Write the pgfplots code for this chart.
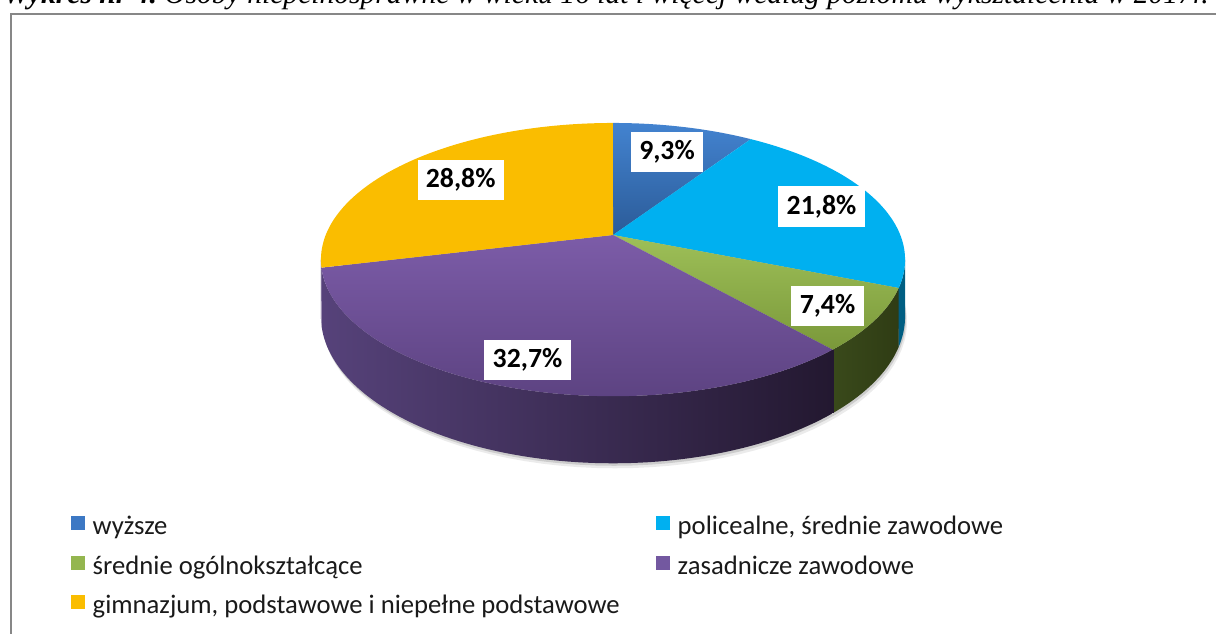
\documentclass[border=0pt]{standalone}
\usepackage{pgfplots}
\pgfplotsset{compat=1.18}
\usepackage{fontspec}
\setmainfont{Carlito}
\newfontfamily\titlefont{Liberation Serif}
\definecolor{cBlue}{HTML}{3C78C4}
\definecolor{cBlueT}{HTML}{4383D0}
\definecolor{cBlueB}{HTML}{2B5B98}
\definecolor{cCyan}{HTML}{00B0F0}
\definecolor{cCyanS}{HTML}{005E82}
\definecolor{cGreen}{HTML}{94B64F}
\definecolor{cGreenT}{HTML}{9EC058}
\definecolor{cGreenB}{HTML}{7A983A}
\definecolor{cGreenSL}{HTML}{3A4A1B}
\definecolor{cGreenSR}{HTML}{2F3C14}
\definecolor{cPurple}{HTML}{7358A0}
\definecolor{cPurpleT}{HTML}{7C5CA8}
\definecolor{cPurpleB}{HTML}{5D4382}
\definecolor{cPurpleSL}{HTML}{56427A}
\definecolor{cPurpleSR}{HTML}{231830}
\definecolor{cYellow}{HTML}{FABD00}
\definecolor{frameGray}{HTML}{878787}
\definecolor{legText}{HTML}{1A1A1A}
% shares in percent (clockwise from 12 o'clock)
\def\vA{9.3}\def\vB{21.8}\def\vC{7.4}\def\vD{32.7}\def\vE{28.8}
\pgfmathsetmacro\tA{3.6*\vA}
\pgfmathsetmacro\tB{3.6*(\vA+\vB)}
\pgfmathsetmacro\tC{3.6*(\vA+\vB+\vC)}
\pgfmathsetmacro\tD{3.6*(\vA+\vB+\vC+\vD)}
\pgfmathsetmacro\tE{3.6*(\vA+\vB+\vC+\vD+\vE)}
\pgfmathsetmacro\sR{acos(-0.18)}
\pgfmathsetmacro\sL{360-\sR}
% side walls slightly overlap the next one (no hairline gaps)
\pgfmathsetmacro\pA{\tB+0.8}
\pgfmathsetmacro\pB{\tC+0.8}
\pgfmathsetmacro\pC{\tD+0.8}
\pgfmathsetmacro\eA{2*\pA-\sR}
\pgfmathsetmacro\eB{2*\pB-\tB}
\pgfmathsetmacro\eC{2*\pC-\tC}
\pgfmathsetmacro\eD{2*\sL-\tD}
\begin{document}
\begin{tikzpicture}
\begin{axis}[width=912pt,height=474.75pt,scale only axis,
  xmin=0,xmax=1216,ymin=0,ymax=633,hide axis,clip=false,
  declare function={
    px(\t)=613+287.3*sin(\t)/(1+0.18*cos(\t));
    py(\t)=398+132.2*cos(\t)/(1+0.18*cos(\t));
    pyb(\t)=398+132.2*cos(\t)/(1+0.18*cos(\t))-55/(1+0.18*cos(\t));
  },
  legend columns=2, legend cell align=left,
  legend image code/.code={\fill[#1,draw=none] (0pt,-1.4pt) rectangle (10.5pt,9.1pt);},
  legend style={at={(0.0584,0.1848)},anchor=north west,draw=none,fill=none,
    inner sep=0pt,row sep=11pt,text=legText,
    font=\fontsize{20}{23}\selectfont,
    nodes={inner sep=0pt,text height=14pt,text depth=4.5pt},
    /tikz/every odd column/.append style={column sep=5.6pt},
    /tikz/every even column/.append style={column sep=27.4pt}},
]
% ---- soft shadow ----
\addplot[draw=none,fill=black!8,forget plot,domain=0:360,samples=121] ({px(x)+2},{pyb(x)-5}) -- cycle;
\addplot[draw=none,fill=black!20,forget plot,domain=0:360,samples=121] ({px(x)+1},{pyb(x)-2.5}) -- cycle;
% ---- side walls ----
\addplot[draw=none,fill=cCyanS,forget plot,domain=\sR:\eA,samples=41]
  ({px(x<=\pA ? x : 2*\pA-x)},{x<=\pA ? py(x) : pyb(2*\pA-x)}) -- cycle;
\addplot[draw=none,left color=cGreenSL,right color=cGreenSR,forget plot,domain=\tB:\eB,samples=61]
  ({px(x<=\pB ? x : 2*\pB-x)},{x<=\pB ? py(x) : pyb(2*\pB-x)}) -- cycle;
\addplot[draw=none,left color=cPurpleSL,right color=cPurpleSR,forget plot,domain=\tC:\eC,samples=161]
  ({px(x<=\pC ? x : 2*\pC-x)},{x<=\pC ? py(x) : pyb(2*\pC-x)}) -- cycle;
\addplot[draw=none,fill=cPurpleSL,forget plot,domain=\tD:\eD,samples=21]
  ({px(x<=\sL ? x : 2*\sL-x)},{x<=\sL ? py(x) : pyb(2*\sL-x)}) -- cycle;
% dark seam between the green and purple walls
\addplot[cPurpleSR,line width=1.3pt,forget plot,domain=0:1,samples=2]
  ({px(\tC)},{py(\tC)-x*55/(1+0.18*cos(\tC))});
% ---- top faces ----
\addplot[draw=none,top color=cBlueT,bottom color=cBlueB,forget plot,domain=0:\tA,samples=40] ({px(x)},{py(x)}) -- (613,398) -- cycle;
\addplot[draw=none,fill=cCyan,forget plot,domain=\tA:\tB,samples=60] ({px(x)},{py(x)}) -- (613,398) -- cycle;
\addplot[draw=none,top color=cGreenT,bottom color=cGreenB,forget plot,domain=\tB:\tC,samples=30] ({px(x)},{py(x)}) -- (613,398) -- cycle;
\addplot[draw=none,top color=cPurpleT,bottom color=cPurpleB,forget plot,domain=\tC:\tD,samples=90] ({px(x)},{py(x)}) -- (613,398) -- cycle;
\addplot[draw=none,fill=cYellow,forget plot,domain=\tD:\tE,samples=80] ({px(x)},{py(x)}) -- (613,398) -- cycle;
% ---- data labels ----
\begin{scope}[every node/.style={fill=white,inner xsep=6.3pt,inner ysep=0pt,minimum height=30pt,
   font=\bfseries\fontsize{20.8}{24}\selectfont}]
\node at (667,481) {9,3\%};
\node at (821.5,426.5) {21,8\%};
\node at (827.5,327) {7,4\%};
\node at (527.5,273.3) {32,7\%};
\node at (460.7,452.7) {28,8\%};
\end{scope}
% ---- title and frame ----
\node[anchor=base west,inner sep=0pt] at (3,629) {\resizebox{904pt}{!}{\titlefont\fontsize{22}{26}\selectfont\bfseries\itshape Wykres nr 4.\mdseries\ Osoby niepełnosprawne w wieku 16 lat i więcej według poziomu wykształcenia w 2017r.}};
\draw[frameGray,line width=1.5pt] (11,-20) -- (11,619) -- (1240,619);
% ---- legend ----
\addlegendimage{fill=cBlue}\addlegendentry{wyższe}
\addlegendimage{fill=cCyan}\addlegendentry{policealne, średnie zawodowe}
\addlegendimage{fill=cGreen}\addlegendentry{średnie ogólnokształcące}
\addlegendimage{fill=cPurple}\addlegendentry{zasadnicze zawodowe}
\addlegendimage{fill=cYellow}\addlegendentry{gimnazjum, podstawowe i niepełne podstawowe}
\end{axis}
\pgfresetboundingbox
\path (0,0) rectangle (912pt,474.75pt);
\end{tikzpicture}
\end{document}
